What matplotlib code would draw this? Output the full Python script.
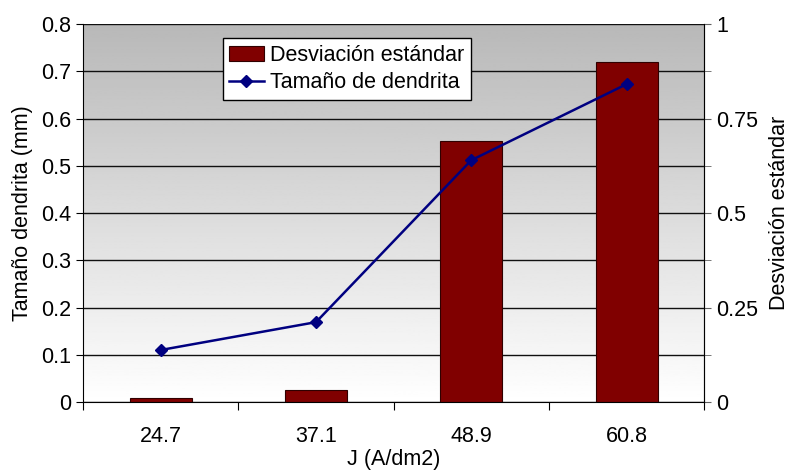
import numpy as np
import matplotlib.pyplot as plt
from matplotlib.ticker import MultipleLocator, FixedLocator

plt.rcParams["font.family"] = ["Liberation Sans", "DejaVu Sans"]

# data
categories = ["24.7", "37.1", "48.9", "60.8"]
desviacion = [0.010, 0.032, 0.690, 0.900]     # right axis, bars
tamano = [0.110, 0.169, 0.512, 0.673]         # left axis, line

fs = 15.5
x = np.arange(len(categories))

fig = plt.figure(figsize=(7.93, 4.74), dpi=100)
ax1 = fig.add_axes([0.1047, 0.152, 0.7834, 0.797])
ax2 = ax1.twinx()

# background gradient + grid live on ax2 (drawn underneath)
grad = np.linspace(1.0, 0.0, 256).reshape(-1, 1)
ax2.imshow(grad, extent=[-0.5, 3.5, 0, 1], aspect="auto", cmap="gray",
           vmin=-2.6, vmax=1.0, origin="lower", zorder=0)
ax2.bar(x, desviacion, width=0.4, color="#800000", edgecolor="#300000",
        linewidth=0.8, zorder=3, label="Desviación estándar")
ax2.set_ylim(0, 1)
ax2.yaxis.set_minor_locator(MultipleLocator(0.125))
ax2.set_yticks([0, 0.25, 0.5, 0.75, 1])
ax2.set_yticklabels(["0", "0.25", "0.5", "0.75", "1"])
ax2.grid(which="both", axis="y", color="#101010", linewidth=1.0, zorder=1)
ax2.set_axisbelow(True)
ax2.set_ylabel("Desviación estándar", fontsize=fs, labelpad=8)
ax2.tick_params(axis="y", which="major", labelsize=fs, length=5, color="#606060")
ax2.tick_params(axis="y", which="minor", length=5, color="#606060")

# line on ax1, placed above ax2
ax1.set_zorder(ax2.get_zorder() + 1)
ax1.patch.set_visible(False)
ax1.plot(x, tamano, color="#000080", linewidth=1.8, marker="D", markersize=6,
         label="Tamaño de dendrita", zorder=5)
ax1.set_ylim(0, 0.8)
ax1.set_yticks(np.arange(0, 0.81, 0.1))
ax1.set_yticklabels(["0", "0.1", "0.2", "0.3", "0.4", "0.5", "0.6", "0.7", "0.8"])
ax1.set_ylabel("Tamaño dendrita (mm)", fontsize=fs, labelpad=6)
ax1.tick_params(axis="y", labelsize=fs, length=5)

ax1.set_xlim(-0.5, 3.5)
ax1.xaxis.set_major_locator(FixedLocator([-0.5, 0.5, 1.5, 2.5, 3.5]))
ax1.xaxis.set_minor_locator(FixedLocator(x))
ax1.set_xticklabels([])
ax1.set_xticklabels(categories, minor=True)
ax1.tick_params(axis="x", which="major", length=6)
ax1.tick_params(axis="x", which="minor", length=0, labelsize=fs, pad=17)
ax1.set_xlabel("J (A/dm2)", fontsize=fs, labelpad=2)

for ax in (ax1, ax2):
    ax.spines["top"].set_visible(False)
ax2.spines["right"].set_color("#606060")
ax2.spines["left"].set_visible(False)
ax2.spines["bottom"].set_visible(False)

h2, l2 = ax2.get_legend_handles_labels()
h1, l1 = ax1.get_legend_handles_labels()
leg = ax1.legend(h2 + h1, l2 + l1, loc="upper left", bbox_to_anchor=(0.225, 0.963),
                 borderaxespad=0, fontsize=fs, fancybox=False, framealpha=1,
                 edgecolor="black", handlelength=1.6, handletextpad=0.3,
                 borderpad=0.3, labelspacing=0.3)
leg.get_frame().set_linewidth(1.0)

fig.savefig("out.png", dpi=100)
